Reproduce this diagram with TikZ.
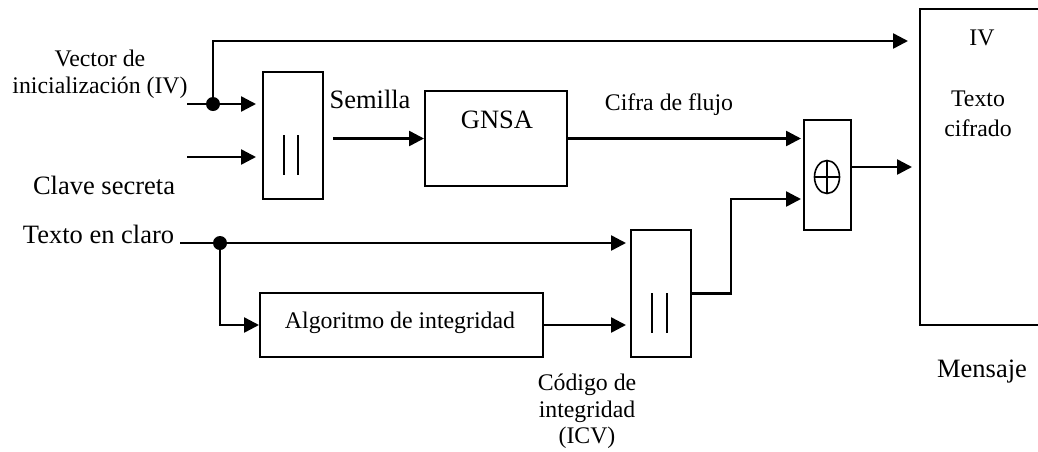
\documentclass[tikz,border=0pt]{standalone}
\usepackage{fontspec}
\setmainfont{Liberation Serif}
\usetikzlibrary{arrows.meta,calc}
\begin{document}
\begin{tikzpicture}[x=0.5pt,y=-0.5pt,
  box/.style={draw,line width=1pt,inner sep=0pt,rectangle},
  arr/.style={line width=1.25pt,-{Triangle[length=7.5pt,width=7.5pt]}},
  ln/.style={line width=1.25pt},
  bar/.style={line width=1pt},
  dot/.style={circle,fill,inner sep=0pt,minimum size=7pt},
  big/.style={font=\fontsize{13.25pt}{15pt}\selectfont,inner sep=0pt,anchor=base},
  small/.style={font=\fontsize{11.9pt}{13.5pt}\selectfont,inner sep=0pt,anchor=base}]
\useasboundingbox (0,0) rectangle (1038,451);
\clip (0,0) rectangle (1038,451);
% boxes
\node[box,minimum width=30pt,minimum height=63.5pt] (cat1) at (293,135.5) {};
\node[box,minimum width=71pt,minimum height=47.5pt] (gnsa) at (496,138.5) {};
\node[box,minimum width=23.5pt,minimum height=55pt] (xor) at (827.5,175) {};
\node[box,minimum width=30pt,minimum height=63.5pt] (cat2) at (661,293.5) {};
\node[box,minimum width=141.5pt,minimum height=32pt] (algo) at (401.5,325) {};
\node[box,minimum width=70pt,minimum height=158pt] (msg) at (990,167) {};
% concatenation bars
\draw[bar] ([shift={(-9,-0.5)}]cat1.center) -- ([shift={(-9,39.5)}]cat1.center);
\draw[bar] ([shift={(5,-0.5)}]cat1.center) -- ([shift={(5,39.5)}]cat1.center);
\draw[bar] ([shift={(-9,-0.5)}]cat2.center) -- ([shift={(-9,39.5)}]cat2.center);
\draw[bar] ([shift={(6,-0.5)}]cat2.center) -- ([shift={(6,39.5)}]cat2.center);
% xor symbol
\coordinate (xc) at (827,177);
\draw[line width=0.8pt] (xc) ellipse [x radius=6.25pt,y radius=8.25pt];
\draw[line width=0.8pt] ([shift={(-12.5,0)}]xc) -- ([shift={(12.5,0)}]xc);
\draw[line width=0.8pt] ([shift={(0,-16.5)}]xc) -- ([shift={(0,16.5)}]xc);
% coordinates
\coordinate (ivstart) at (187,104);
\coordinate (keystart) at (187,157);
\coordinate (ptstart) at (180,243);
\coordinate (toprow) at (213,41);
\coordinate (bend) at (731,199);
\coordinate (xout) at ([yshift=4pt]xor.east);
\node[dot] (ivdot) at (213,104) {};
\node[dot] (ptdot) at (220,243) {};
% connectors
\draw[ln] (ivstart) -- (ivdot.center);
\draw[arr,shorten >=3pt] (ivdot.center) -- (cat1.west |- ivdot);
\draw[arr,shorten >=5.5pt] (ivdot.center) |- (msg.west |- toprow);
\draw[arr,shorten >=3pt] (keystart) -- (cat1.west |- keystart);
\draw[arr] ([xshift=4.5pt]cat1.east |- gnsa.west) -- (gnsa.west);
\draw[arr,shorten >=1pt] (gnsa.east) -- (xor.west |- gnsa.east);
\draw[arr,shorten >=3.5pt] (xout) -- (msg.west |- xout);
\draw[arr,shorten >=1pt] (cat2.east) -| (bend) -- (xor.west |- bend);
\draw[ln] (ptstart) -- (ptdot.center);
\draw[arr,shorten >=2pt] (ptdot.center) -- (cat2.west |- ptdot);
\draw[arr] (ptdot.center) |- (algo.west);
\draw[arr,shorten >=2pt] (algo.east) -- (cat2.west |- algo.east);
% labels
\node[small] (lv1) at (100,66) {Vector de};
\node[small] (lv2) at (100,93) {inicialización (IV)};
\node[big] (lkey) at (104,194) {Clave secreta};
\node[big] (lsem) at (370,108) {Semilla};
\node[big] (lgnsa) at (497,128) {GNSA};
\node[small] (lcf) at (669,110) {Cifra de flujo};
\node[small] (liv) at (982,45) {IV};
\node[small] (ltx1) at (978,106) {Texto};
\node[small] (ltx2) at (978,136) {cifrado};
\node[big] (lpt) at (98.5,243) {Texto en claro};
\node[small] (lalg) at (400,328) {Algoritmo de integridad};
\node[small] (lc1) at (587,390) {Código de};
\node[small] (lc2) at (587,417) {integridad};
\node[small] (lc3) at (587,443) {(ICV)};
\node[big] (lmsg) at (982,377) {Mensaje};
\end{tikzpicture}
\end{document}
